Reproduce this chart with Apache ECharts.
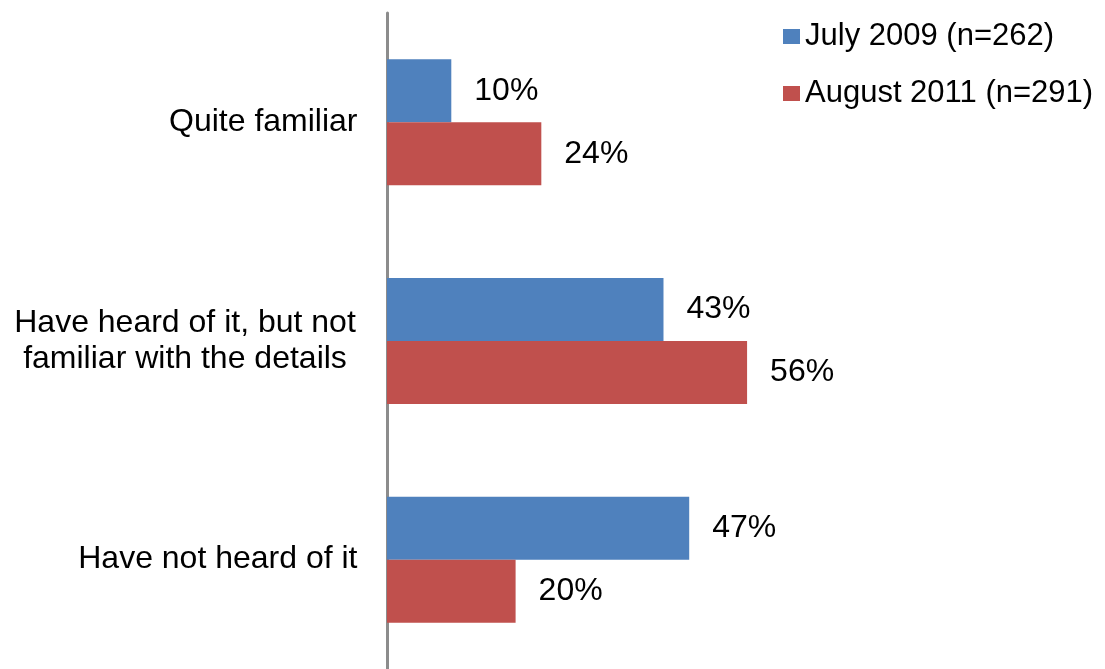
<!DOCTYPE html>
<html>
<head>
<meta charset="utf-8">
<script src="https://cdn.jsdelivr.net/npm/echarts@6/dist/echarts.min.js"></script>
<style>
  html, body { margin: 0; padding: 0; background: #fff; }
  #chart { width: 1105px; height: 669px; }
</style>
</head>
<body>
<div id="chart"></div>
<script>
// Familiarity survey: share of respondents per answer, two survey waves
const categories = ['Quite familiar', 'Have heard of it, but not\nfamiliar with the details', 'Have not heard of it'];
const seriesNames = ['July 2009 (n=262)', 'August 2011 (n=291)'];
const july2009 = [10, 43, 47];
const august2011 = [24, 56, 20];

const FONT = '"Liberation Sans", Arial, sans-serif';

const chart = echarts.init(document.getElementById('chart'), null, { renderer: 'canvas' });

function barSeries(name, data, color) {
  return {
    name: name,
    type: 'bar',
    data: data,
    barWidth: 63,
    barGap: '0%',
    itemStyle: { color: color },
    label: {
      show: true,
      position: 'right',
      distance: 23,
      formatter: '{c}%',
      color: '#000',
      fontFamily: FONT,
      fontSize: 32
    }
  };
}

chart.setOption({
  animation: false,
  backgroundColor: '#fff',
  textStyle: { fontFamily: FONT },
  legend: {
    orient: 'vertical',
    left: 783,
    top: 20,
    padding: 0,
    itemWidth: 17,
    itemHeight: 15,
    itemGap: 24,
    icon: 'rect',
    textStyle: { color: '#000', fontFamily: FONT, fontSize: 31, lineHeight: 33 },
    data: seriesNames
  },
  grid: { left: 387, top: 13, width: 643, height: 660, containLabel: false },
  xAxis: {
    type: 'value',
    min: 0,
    max: 100,
    show: false
  },
  yAxis: {
    type: 'category',
    inverse: true,
    data: categories,
    offset: 1.5,
    axisLine: { show: true, lineStyle: { color: '#8c8c8c', width: 3 } },
    axisTick: { show: false },
    splitLine: { show: false },
    axisLabel: {
      margin: 28,
      color: '#000',
      fontFamily: FONT,
      fontSize: 32,
      formatter: function (v) {
        if (v.indexOf('\n') >= 0) {
          return v.split('\n').map(function (s) { return '{c|' + s + '}'; }).join('\n');
        }
        return v;
      },
      rich: {
        c: { width: 345, align: 'center', fontSize: 32, lineHeight: 36, color: '#000', fontFamily: FONT }
      }
    }
  },
  series: [
    barSeries(seriesNames[0], july2009, '#4F81BD'),
    barSeries(seriesNames[1], august2011, '#C0504D')
  ]
});
</script>
</body>
</html>
